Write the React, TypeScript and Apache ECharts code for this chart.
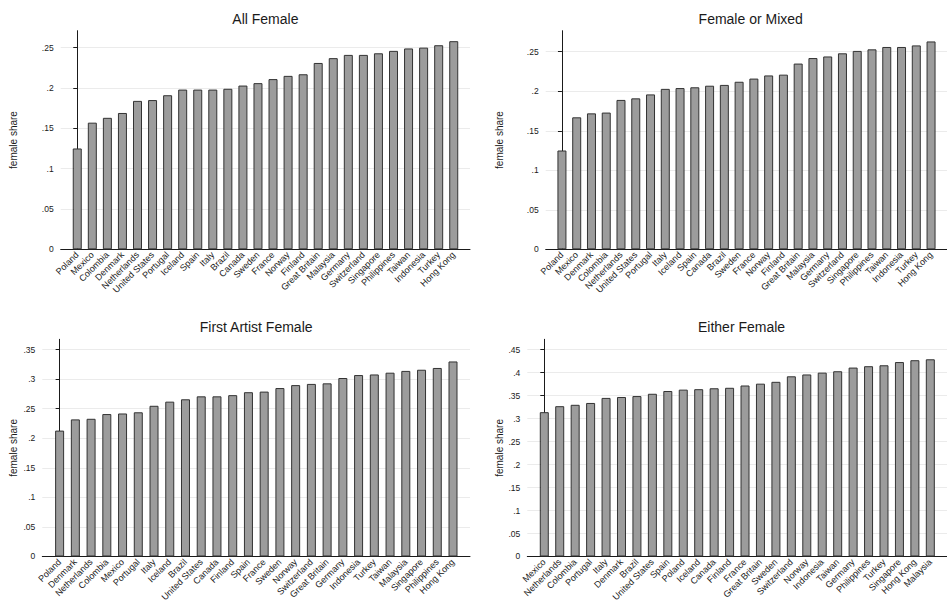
import React, { useEffect, useRef } from 'react';
import * as echarts from 'echarts';

// ---------- data ----------
const catAllFemale = ['Poland', 'Mexico', 'Colombia', 'Denmark', 'Netherlands', 'United States', 'Portugal', 'Iceland', 'Spain', 'Italy', 'Brazil', 'Canada', 'Sweden', 'France', 'Norway', 'Finland', 'Great Britain', 'Malaysia', 'Germany', 'Switzerland', 'Singapore', 'Philippines', 'Taiwan', 'Indonesia', 'Turkey', 'Hong Kong'];
const valAllFemale = [0.125, 0.157, 0.163, 0.169, 0.184, 0.185, 0.191, 0.198, 0.198, 0.198, 0.199, 0.203, 0.206, 0.211, 0.215, 0.217, 0.231, 0.237, 0.241, 0.241, 0.243, 0.246, 0.249, 0.250, 0.253, 0.258];

const catFemaleOrMixed = ['Poland', 'Mexico', 'Denmark', 'Colombia', 'Netherlands', 'United States', 'Portugal', 'Italy', 'Iceland', 'Spain', 'Canada', 'Brazil', 'Sweden', 'France', 'Norway', 'Finland', 'Great Britain', 'Malaysia', 'Germany', 'Switzerland', 'Singapore', 'Philippines', 'Taiwan', 'Indonesia', 'Turkey', 'Hong Kong'];
const valFemaleOrMixed = [0.125, 0.167, 0.172, 0.173, 0.189, 0.191, 0.196, 0.203, 0.204, 0.205, 0.207, 0.208, 0.212, 0.216, 0.220, 0.221, 0.235, 0.242, 0.244, 0.248, 0.251, 0.253, 0.256, 0.256, 0.258, 0.263];

const catFirstArtist = ['Poland', 'Denmark', 'Netherlands', 'Colombia', 'Mexico', 'Portugal', 'Italy', 'Iceland', 'Brazil', 'United States', 'Canada', 'Finland', 'Spain', 'France', 'Sweden', 'Norway', 'Switzerland', 'Great Britain', 'Germany', 'Indonesia', 'Turkey', 'Taiwan', 'Malaysia', 'Singapore', 'Philippines', 'Hong Kong'];
const valFirstArtist = [0.213, 0.232, 0.233, 0.241, 0.242, 0.244, 0.255, 0.262, 0.266, 0.271, 0.271, 0.273, 0.278, 0.279, 0.285, 0.290, 0.292, 0.293, 0.302, 0.307, 0.308, 0.311, 0.314, 0.316, 0.319, 0.330];

const catEitherFemale = ['Mexico', 'Netherlands', 'Colombia', 'Portugal', 'Italy', 'Denmark', 'Brazil', 'United States', 'Spain', 'Poland', 'Iceland', 'Canada', 'Finland', 'France', 'Great Britain', 'Sweden', 'Switzerland', 'Norway', 'Indonesia', 'Taiwan', 'Germany', 'Philippines', 'Turkey', 'Singapore', 'Hong Kong', 'Malaysia'];
const valEitherFemale = [0.314, 0.327, 0.330, 0.334, 0.345, 0.347, 0.349, 0.354, 0.360, 0.363, 0.364, 0.366, 0.367, 0.372, 0.376, 0.380, 0.392, 0.396, 0.400, 0.403, 0.411, 0.414, 0.416, 0.423, 0.427, 0.429];

const ticksLow = [0, 0.05, 0.1, 0.15, 0.2, 0.25];
const ticksMid = [0, 0.05, 0.1, 0.15, 0.2, 0.25, 0.3, 0.35];
const ticksHigh = [0, 0.05, 0.1, 0.15, 0.2, 0.25, 0.3, 0.35, 0.4, 0.45];

const FONT = '"Liberation Sans", Arial, Helvetica, sans-serif';
const INK = '#1a1a1a';

function fmt(v: number): string {
  if (Math.abs(v) < 1e-9) return '0';
  return String(Math.round(v * 100) / 100).replace(/^0\./, '.');
}

const panels = [
  { title: 'All Female', cats: catAllFemale, vals: valAllFemale, ticks: ticksLow, yMax: 0.271, grid: { left: 60.7, top: 30.7, width: 409.3, height: 218.6 }, nameGap: 42 },
  { title: 'Female or Mixed', cats: catFemaleOrMixed, vals: valFemaleOrMixed, ticks: ticksLow, yMax: 0.2766, grid: { left: 545.7, top: 30.7, width: 410, height: 218.6 }, nameGap: 41 },
  { title: 'First Artist Female', cats: catFirstArtist, vals: valFirstArtist, ticks: ticksMid, yMax: 0.3675, grid: { left: 42.3, top: 339.3, width: 427.7, height: 218.4 }, nameGap: 24 },
  { title: 'Either Female', cats: catEitherFemale, vals: valEitherFemale, ticks: ticksHigh, yMax: 0.4725, grid: { left: 527.3, top: 339.3, width: 428.5, height: 218.4 }, nameGap: 23 },
];

export default function App() {
  const ref = useRef<HTMLDivElement>(null);
  useEffect(() => {
    if (!ref.current) return;
    const chart = echarts.init(ref.current, undefined, { renderer: 'svg' });
    const option: any = {
      animation: false,
      backgroundColor: '#ffffff',
      grid: panels.map((p) => ({ ...p.grid, containLabel: false })),
      xAxis: panels.map((p, i) => ({
        type: 'value',
        gridIndex: i,
        min: -1.1,
        max: 26.08,
        axisLine: { show: true, onZero: false, lineStyle: { color: INK, width: 1 } },
        axisTick: { show: false },
        splitLine: { show: false },
        axisLabel: {
          customValues: p.cats.map((_, j) => j),
          formatter: (v: number) => p.cats[Math.round(v)] ?? '',
          rotate: 45,
          fontSize: 9,
          color: INK,
          margin: 4,
          fontFamily: FONT,
        },
      })),
      yAxis: panels.map((p, i) => ({
        type: 'value',
        gridIndex: i,
        min: 0,
        max: p.yMax,
        interval: 0.05,
        name: 'female share',
        nameLocation: 'middle',
        nameGap: p.nameGap,
        nameTextStyle: { fontSize: 10, color: INK, fontFamily: FONT },
        axisLine: { show: true, lineStyle: { color: INK, width: 1 } },
        axisTick: { show: true, length: 4, customValues: p.ticks, lineStyle: { color: INK, width: 1 } },
        axisLabel: { customValues: p.ticks, formatter: fmt, fontSize: 8.5, color: INK, margin: 7, fontFamily: FONT },
        splitLine: { show: true, showMinLine: false, lineStyle: { color: '#ebebeb', width: 1 } },
      })),
      series: panels.map((p, i) => ({
        type: 'bar',
        xAxisIndex: i,
        yAxisIndex: i,
        barWidth: 9,
        silent: true,
        itemStyle: { color: '#9c9c9c', borderColor: '#333333', borderWidth: 1 },
        data: p.vals.map((v, j) => [j, v]),
      })),
      graphic: panels.map((p) => ({
        type: 'text',
        x: p.grid.left + p.grid.width / 2,
        y: p.grid.top - 12,
        silent: true,
        style: {
          text: p.title,
          textAlign: 'center',
          textVerticalAlign: 'middle',
          fontSize: 14,
          fontFamily: FONT,
          fill: INK,
        },
      })),
    };
    chart.setOption(option);
    return () => chart.dispose();
  }, []);
  return (
    <div
      ref={ref}
      style={{ position: 'absolute', left: 0, top: 0, width: 947, height: 604, background: '#fff' }}
    />
  );
}
